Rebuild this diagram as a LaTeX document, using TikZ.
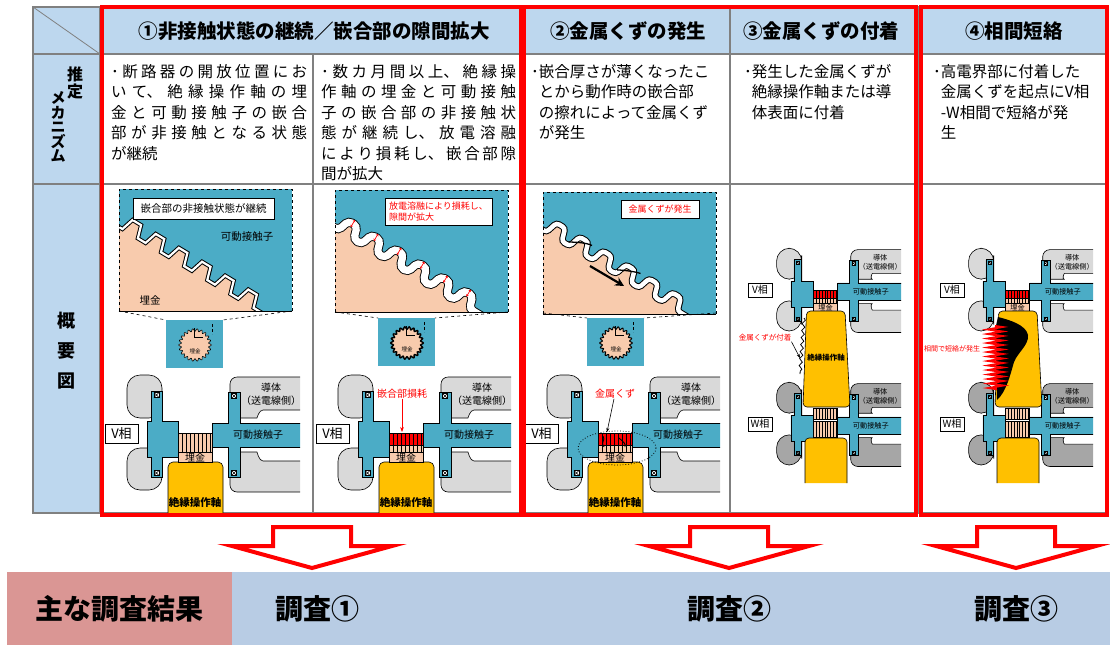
\documentclass[tikz,border=0pt]{standalone}
\usepackage{fontspec}
\setmainfont{Noto Sans CJK JP}
\XeTeXlinebreaklocale "ja"
\XeTeXlinebreakskip=0pt plus 8pt
\usetikzlibrary{positioning, arrows.meta, decorations.pathmorphing}

\definecolor{hdrblue}{HTML}{BDD7EE}
\definecolor{bandblue}{HTML}{B8CCE4}
\definecolor{rescol}{HTML}{DA9694}
\definecolor{contact}{HTML}{4BACC6}
\definecolor{padgrey}{HTML}{D9D9D9}
\definecolor{padgreyW}{HTML}{A6A6A6}
\definecolor{umekin}{HTML}{F8CBAD}
\definecolor{colshaft}{HTML}{FFC000}
\definecolor{gridgrey}{HTML}{808080}

\tikzset{
  gridline/.style={draw=gridgrey, line width=1.5pt},
  hdr/.style={font=\fontsize{19.5}{22}\selectfont\bfseries, inner sep=0pt},
  mech/.style={font=\fontsize{15.5}{20.5}\selectfont, align=left, anchor=north west, inner sep=0pt},
  sidelbl/.style={align=center, inner sep=0pt},
  redframe/.style={draw=red, line width=4pt},
  hollowarrow/.style={draw=red, line width=4pt, fill=white, miter limit=10},
  partline/.style={draw=black, line width=0.6pt},
  lbl/.style={font=\fontsize{10}{11}\selectfont, inner sep=0pt},
  phasebox/.style={draw=black, fill=white, line width=0.6pt, font=\fontsize{13}{14}\selectfont, minimum width=33pt, minimum height=19pt, inner sep=0pt},
  notebox/.style={draw=black, fill=white, line width=0.8pt, inner sep=0pt, align=left},
  redtxt/.style={text=red, inner sep=0pt},
  restxt/.style={font=\fontsize{28}{30}\selectfont\bfseries, inner sep=0pt},
}

\newcommand\teeth{foreach \k in {0,...,5} { -- ({\k*27+4},0) -- ({\k*27+8},-13) -- ({\k*27+18},-13) -- ({\k*27+22},0) }}

\newcommand\stripes[3]{%
  \filldraw[partline, fill=#3] (-17,#1) rectangle (17,#2);
  \foreach \sx in {-13,-9,...,15} \draw[line width=0.4pt] (\sx,#1) -- (\sx,#2);}

\newcommand\phasebody[2]{%
  \begin{scope}
    \clip (-75,-65) rectangle (105,65);
    \filldraw[partline, fill=#1, rounded corners=7pt] (115,-56) -- (35,-56) -- (35,-15) -- (55,-15) .. controls (62,-15) and (64,-23) .. (75,-23) -- (115,-23) -- cycle;
    \filldraw[partline, fill=#1, rounded corners=7pt] (115,28) -- (75,28) .. controls (64,28) and (62,19) .. (55,19) -- (35,19) -- (35,59) -- (115,59) -- cycle;
    \filldraw[partline, fill=#1, rounded corners=13pt] (-33,-30) -- (-33,-58) -- (-68,-58) -- (-68,-15) -- (-33,-15) -- cycle;
    \filldraw[partline, fill=#1, rounded corners=13pt] (-33,30) -- (-33,15) -- (-68,15) -- (-68,57) -- (-33,57) -- cycle;
    \filldraw[partline, fill=contact] (-44,-42) -- (-33,-42) -- (-33,-12) -- (-17,-12) -- (-17,24) -- (-33,24) -- (-33,44) -- (-44,44) -- (-44,24) -- (-48,24) -- (-48,-12) -- (-44,-12) -- cycle;
    \filldraw[partline, fill=contact] (17,-10) -- (33,-10) -- (33,-41) -- (45,-41) -- (45,-10) -- (115,-10) -- (115,14) -- (45,14) -- (45,44) -- (33,44) -- (33,14) -- (17,14) -- cycle;
  \end{scope}
  \foreach \bx/\by in {-38.5/-38, -38.5/40, 39/-37, 39/40} {
    \draw[line width=0.5pt, fill=white] ({\bx-2.5},{\by-2.5}) rectangle ({\bx+2.5},{\by+2.5});
    \draw[line width=0.4pt] ({\bx-2.5},{\by-2.5}) -- ({\bx+2.5},{\by+2.5}) ({\bx-2.5},{\by+2.5}) -- ({\bx+2.5},{\by-2.5});
  }
  \node[lbl] (#2cond) at (76,-45) {導体};
  \node[lbl] (#2side) at (76,-32) {（送電線側）};
  \node[lbl] (#2mov) at (63,2) {可動接触子};}

\newcommand\singlephase[3]{%
  \begin{scope}[shift={(#1,433)}]
    \phasebody{padgrey}{#2}
    \filldraw[partline, fill=colshaft, rounded corners=5pt] (-27,80) -- (-27,29) -- (28,29) -- (28,80);
    #3
    \filldraw[partline, fill=umekin] (-17,19) rectangle (17,29);
    \node[lbl] (#2band) at (0,24.5) {埋金};
    \node[lbl, font=\fontsize{10.5}{11}\selectfont\bfseries] (#2shaft) at (0,70) {絶縁操作軸};
    \node[phasebox] (#2box) at (-73.5,0.5) {V相};
  \end{scope}}

\newcommand\twophase[2]{%
  \begin{scope}[shift={(#1,290)}, scale=0.72, transform shape]
    \phasebody{padgrey}{#2v}
    \stripes{0}{12}{red}
    \stripes{12}{19}{umekin}
    \filldraw[partline, fill=umekin] (-17,19) rectangle (17,29);
    \node[lbl] (#2vband) at (0,24.5) {埋金};
  \end{scope}
  \begin{scope}[shift={(#1,424)}, scale=0.72, transform shape]
    \phasebody{padgreyW}{#2w}
    \stripes{-22}{-6}{umekin}
    \stripes{-4}{19}{umekin}
  \end{scope}
  \filldraw[partline, fill=colshaft, rounded corners=4pt] ({#1-19},311) -- ({#1+19.5},311) -- ({#1+24.5},407) -- ({#1-22.5},407) -- cycle;
  \filldraw[partline, fill=colshaft, rounded corners=4pt] ({#1-20.5},483) -- ({#1-20.5},438) -- ({#1+21.5},438) -- ({#1+21.5},483);
  \node[phasebox, font=\fontsize{10}{11}\selectfont, minimum width=24pt, minimum height=14pt] (#2vbox) at ({#1-65.5},290) {V相};
  \node[phasebox, font=\fontsize{10}{11}\selectfont, minimum width=24pt, minimum height=14pt] (#2wbox) at ({#1-65.5},424) {W相};}

\newcommand\zoominset[6]{%
  \begin{scope}[shift={(#1,#2)}]
    \begin{scope}
      \clip (0,0) rectangle (173,122);
      \fill[contact] (0,0) rectangle (173,122);
      \begin{scope}[shift={(0,38)}, rotate=-31]
        \fill[umekin, #3] (-60,0) \teeth -- (230,0) -- (230,250) -- (-60,250) -- cycle;
        \draw[line width=#4, #3] (-60,0) \teeth -- (230,0);
        \draw[white, line width=#5, #3] (-60,0) \teeth -- (230,0);
        #6
      \end{scope}
    \end{scope}
    \draw[dashed, line width=0.8pt] (0,122) -- (0,0) -- (173,0) -- (173,122);
    \draw[line width=0.8pt] (0,122) -- (173,122);
  \end{scope}}

\newcommand\gearsq[4]{%
  \fill[contact] (#1,#2) rectangle ({#1+57},{#2+48});
  \filldraw[fill=umekin, line width=#3] plot[domain=0:360, samples=177] ({#1+29+(15+1.3*cos(22*\x))*cos(\x)}, {#2+25+(15+1.3*cos(22*\x))*sin(\x)}) -- cycle;
  \node[font=\fontsize{5.5}{6}\selectfont, inner sep=0pt] (#4) at ({#1+29},{#2+31}) {埋金};
  \draw[line width=0.5pt] ({#1+28},{#2+8}) |- ({#1+37},{#2+17});
  \draw[densely dashed, line width=0.5pt] ({#1+46},{#2+4}) -- ({#1+46},{#2+14});}

\newcommand\bigdown[1]{%
  \draw[hollowarrow] ({#1-39},527) -- ({#1+39},527) -- ({#1+39},546) -- ({#1+80},546) -- (#1,568) -- ({#1-80},546) -- ({#1-39},546) -- cycle;}

\begin{document}
\begin{tikzpicture}[x=1pt, y=-1pt]
\useasboundingbox (0,0) rectangle (1110,645);

\fill[hdrblue] (33,7) rectangle (1108,54);
\fill[hdrblue] (33,54) rectangle (100,513);
\draw[gridline] (33,7) rectangle (1108,513);
\draw[gridline] (33,54) -- (1108,54) (33,184) -- (1108,184);
\draw[gridline] (100,7) -- (100,513) (313,54) -- (313,513) (522,7) -- (522,513) (730,7) -- (730,513) (918,7) -- (918,513);
\draw[draw=gridgrey, line width=0.8pt] (33,7) -- (100,54);

\node[hdr] (h1) at (314,31) {①非接触状態の継続／嵌合部の隙間拡大};
\node[hdr] (h2) at (628,31) {②金属くずの発生};
\node[hdr] (h3) at (821,31) {③金属くずの付着};
\node[hdr] (h4) at (1014,31) {④相間短絡};

\node[sidelbl, font=\fontsize{16}{17}\selectfont\bfseries] (est) at (75,83) {推\\定};
\node[sidelbl, font=\fontsize{15}{14.5}\selectfont\bfseries] (mecha) at (58,127) {メ\\カ\\ニ\\ズ\\ム};
\node[sidelbl, font=\fontsize{18}{30}\selectfont\bfseries] (gaiyo) at (66.5,351) {概\\要\\図};

\node[mech, text width=196pt, align=justify] (m1) at (111,64) {\hangindent=7.75pt\hangafter=1 ･断路器の開放位置にお\linebreak いて、絶縁操作軸の埋\linebreak 金と可動接触子の嵌合\linebreak 部が非接触となる状態\linebreak が継続};
\node[mech, text width=195pt, align=justify] (m2) at (321,64) {\hangindent=7.75pt\hangafter=1 ･数カ月間以上、絶縁操\linebreak 作軸の埋金と可動接触\linebreak 子の嵌合部の非接触状\linebreak 態が継続し、放電溶融\linebreak により損耗し、嵌合部隙\linebreak 間が拡大};
\node[mech] (m3) at (531,64) {･嵌合厚さが薄くなったこ\\\hphantom{･}とから動作時の嵌合部\\\hphantom{･}の擦れによって金属くず\\\hphantom{･}が発生};
\node[mech] (m4) at (744,64) {･発生した金属くずが\\\hphantom{･}絶縁操作軸または導\\\hphantom{･}体表面に付着};
\node[mech] (m5) at (933,64) {･高電界部に付着した\\\hphantom{･}金属くずを起点にV相\\\hphantom{･}-W相間で短絡が発\\\hphantom{･}生};

\zoominset{119}{189}{sharp corners}{4.2pt}{2.2pt}{}
\node[notebox, font=\fontsize{10.5}{12}\selectfont, minimum width=141pt, minimum height=21pt] (note1) at (203.5,208.5) {嵌合部の非接触状態が継続};
\node[lbl, font=\fontsize{10.5}{11}\selectfont] (mov1) at (247,237) {可動接触子};
\node[lbl, font=\fontsize{10.5}{11}\selectfont] (emb1) at (150,300) {埋金};
\draw[dashed, line width=0.6pt] (119,311) -- (166,320) (292,311) -- (223,320);
\gearsq{166}{320}{0.6pt}{gear1}
\singlephase{195}{pa}{\stripes{0}{19}{umekin}}

\zoominset{335}{190}{rounded corners=4pt}{9pt}{7.2pt}{\foreach \k in {0,...,5} \draw[red, line width=0.7pt, {Stealth[length=2pt,width=3pt]}-{Stealth[length=2pt,width=3pt]}] ({\k*27+13},-17) -- ({\k*27+13},-9);}
\node[notebox, text=red, font=\fontsize{9}{11}\selectfont, minimum width=107pt, minimum height=27pt, inner xsep=4pt] (note2) at (438.5,211.5) {放電溶融により損耗し、\\隙間が拡大};
\draw[dashed, line width=0.6pt] (335,312) -- (378,318) (508,312) -- (435,318);
\gearsq{378}{318}{1.4pt}{gear2}
\singlephase{406}{pb}{\stripes{0}{12}{red}\stripes{12}{19}{umekin}}
\node[redtxt, font=\fontsize{10}{11}\selectfont] (loss2) at (402,394) {嵌合部損耗};
\coordinate (blk2) at (402,432);
\draw[red, line width=0.8pt, -{Stealth[length=5pt]}] (loss2) -- (blk2);

\zoominset{543}{192}{rounded corners=3pt}{6.5pt}{4.5pt}{\draw[line width=1.3pt] (28,-3) .. controls (36,-7) and (42,-11) .. (50,-12); \draw[line width=1.3pt] (84,-4) .. controls (92,-8) and (98,-11) .. (106,-13);}
\node[notebox, text=red, font=\fontsize{9}{11}\selectfont, minimum width=78pt, minimum height=18pt] (note3) at (660,209) {金属くずが発生};
\coordinate (push3a) at (590,266);
\coordinate (push3b) at (624,286);
\draw[line width=2.2pt, -{Stealth[length=9pt,width=9pt]}] (push3a) -- (push3b);
\draw[dashed, line width=0.6pt] (543,313) -- (587,318) (716,313) -- (644,318);
\gearsq{587}{318}{1pt}{gear3}
\singlephase{615}{pc}{\stripes{0}{12}{red}\stripes{12}{19}{umekin}}
\draw[line width=0.9pt] (603,436) .. controls (606,440) and (600,443) .. (604,447);
\draw[line width=0.9pt] (619,438) .. controls (623,442) and (626,443) .. (625,447);
\draw[dotted, line width=0.8pt] (617,448) ellipse [x radius=39, y radius=17];
\node[redtxt, font=\fontsize{10}{11}\selectfont] (chip3) at (615,394) {金属くず};
\coordinate (chip3tip) at (607,432);
\draw[line width=0.6pt, -{Stealth[length=4pt]}] (chip3) -- (chip3tip);

\twophase{825.5}{pd}
\node[lbl, font=\fontsize{7.5}{8}\selectfont\bfseries] (shaft4) at (826,358) {絶縁操作軸};
\draw[line width=0.8pt, decorate, decoration={snake, amplitude=1.5pt, segment length=7pt}] (804,318) -- (800,374);
\node[redtxt, font=\fontsize{7.5}{8}\selectfont] (dust4) at (765,338) {金属くずが付着};
\coordinate (dust4tip) at (800,358);
\draw[line width=0.6pt, -{Stealth[length=4pt]}] (dust4.south east) -- (dust4tip);

\twophase{1017.5}{pe}
\fill[black] (998,317) .. controls (1010,320) and (1026,325) .. (1028,335) .. controls (1029,345) and (1018,352) .. (1014,362) .. controls (1010,376) and (1006,392) .. (997,400) -- (995,330) -- cycle;
\draw[red, line width=2pt, decorate, decoration={zigzag, amplitude=7pt, segment length=4.5pt}] (995,326) -- (996,390);
\node[redtxt, font=\fontsize{7}{8}\selectfont] (short5) at (952,349) {相間で短絡が発生};

\draw[redframe] (102,7) rectangle (521,515);
\draw[redframe] (524,7) rectangle (916,515);
\draw[redframe] (921,7) rectangle (1107,515);

\bigdown{312}
\bigdown{729}
\bigdown{1016}

\node[fill=rescol, restxt, minimum width=225pt, minimum height=73pt, anchor=north west] (res) at (7,572) {主な調査結果};
\node[fill=bandblue, minimum width=878pt, minimum height=73pt, anchor=north west, inner sep=0pt] (band) at (232,572) {};
\node[restxt] (inv1) at (317,609) {調査①};
\node[restxt] (inv2) at (729,609) {調査②};
\node[restxt] (inv3) at (1016,609) {調査③};
\end{tikzpicture}
\end{document}
